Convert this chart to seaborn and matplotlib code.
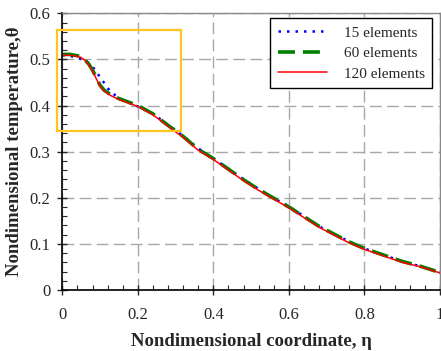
import numpy as np
import pandas as pd
import matplotlib
matplotlib.use("Agg")
import matplotlib.pyplot as plt
from matplotlib.patches import Rectangle
from matplotlib.ticker import MultipleLocator, FormatStrFormatter
import seaborn as sns

# data
eta = [0.0, 0.02, 0.04, 0.05, 0.06, 0.07, 0.08, 0.09, 0.10, 0.11, 0.12, 0.13,
       0.15, 0.17, 0.20, 0.24, 0.28, 0.32, 0.36, 0.40, 0.44, 0.48, 0.52, 0.56,
       0.60, 0.64, 0.68, 0.72, 0.76, 0.80, 0.85, 0.90, 0.95, 1.0]
theta_15 = [0.509, 0.508, 0.503, 0.501, 0.498, 0.492, 0.484, 0.474, 0.461, 0.450, 0.438, 0.428,
            0.417, 0.408, 0.398, 0.382, 0.358, 0.334, 0.307, 0.285, 0.263, 0.240, 0.219, 0.199,
            0.181, 0.160, 0.138, 0.121, 0.105, 0.090, 0.076, 0.062, 0.051, 0.038]
theta_60 = [0.511, 0.511, 0.508, 0.505, 0.499, 0.490, 0.477, 0.460, 0.444, 0.434, 0.428, 0.423,
            0.415, 0.409, 0.400, 0.382, 0.357, 0.333, 0.305, 0.285, 0.262, 0.239, 0.218, 0.199,
            0.180, 0.159, 0.138, 0.121, 0.104, 0.090, 0.076, 0.062, 0.051, 0.038]
theta_120 = [0.509, 0.509, 0.507, 0.504, 0.498, 0.488, 0.475, 0.458, 0.442, 0.432, 0.426, 0.421,
             0.413, 0.407, 0.398, 0.380, 0.355, 0.331, 0.303, 0.283, 0.260, 0.237, 0.216, 0.197,
             0.178, 0.157, 0.136, 0.119, 0.102, 0.088, 0.074, 0.060, 0.050, 0.037]
labels = ["15 elements", "60 elements", "120 elements"]

# highlighted zoom region (data coords)
box_x0, box_y0 = -0.013, 0.345
box_w, box_h = 0.328, 0.218

sns.set_style("ticks")
plt.rcParams['font.family'] = ['Liberation Serif', 'DejaVu Serif']

fig = plt.figure(figsize=(4.41, 3.51), dpi=100)
ax = fig.add_axes([0.1413, 0.1738, 0.8564, 0.7882])

sns.lineplot(x=eta, y=theta_15, ax=ax, color='blue', linestyle=(0, (1, 2.4)),
             linewidth=1.8, label=labels[0])
sns.lineplot(x=eta, y=theta_60, ax=ax, color='green', linestyle=(0, (4.7, 2.2)),
             linewidth=2.6, label=labels[1])
sns.lineplot(x=eta, y=theta_120, ax=ax, color='red', linestyle='-',
             linewidth=1.1, label=labels[2])

ax.set_xlim(0, 1)
ax.set_ylim(0, 0.6)
ax.xaxis.set_major_locator(MultipleLocator(0.2))
ax.xaxis.set_minor_locator(MultipleLocator(0.04))
ax.yaxis.set_major_locator(MultipleLocator(0.1))
ax.yaxis.set_minor_locator(MultipleLocator(0.02))
ax.xaxis.set_major_formatter(FormatStrFormatter('%g'))
ax.yaxis.set_major_formatter(FormatStrFormatter('%g'))
ax.tick_params(which='major', direction='inout', length=7, width=1, labelsize=12)
ax.tick_params(axis='x', which='major', pad=9)
ax.tick_params(axis='y', which='major', pad=5)
ax.tick_params(which='minor', direction='in', length=3.5, width=0.8)

ax.grid(True, which='major', color='#a8a8a8', linestyle=(0, (8.5, 3.8)), linewidth=1.0)
for side in ['left', 'bottom']:
    ax.spines[side].set_color('black')
    ax.spines[side].set_linewidth(1.2)
for side in ['top', 'right']:
    ax.spines[side].set_visible(True)
    ax.spines[side].set_color('#888888')
    ax.spines[side].set_linewidth(1.0)

ax.set_xlabel('Nondimensional coordinate, η', fontsize=13.5, fontweight='bold', labelpad=7)
ax.set_ylabel('Nondimensional temperature,θ', fontsize=13.5, fontweight='bold', labelpad=5)

ax.add_patch(Rectangle((box_x0, box_y0), box_w, box_h, fill=False,
                       edgecolor='#ffc71e', linewidth=1.6, clip_on=False, zorder=5))

leg = ax.legend(loc='upper right', bbox_to_anchor=(0.98, 0.982), borderaxespad=0,
                fontsize=11, frameon=True, fancybox=False, edgecolor='black', framealpha=1,
                handlelength=3.2, borderpad=0.5, labelspacing=0.45, handletextpad=1.1)
leg.get_frame().set_linewidth(1.0)

fig.savefig('out.png', dpi=100)
